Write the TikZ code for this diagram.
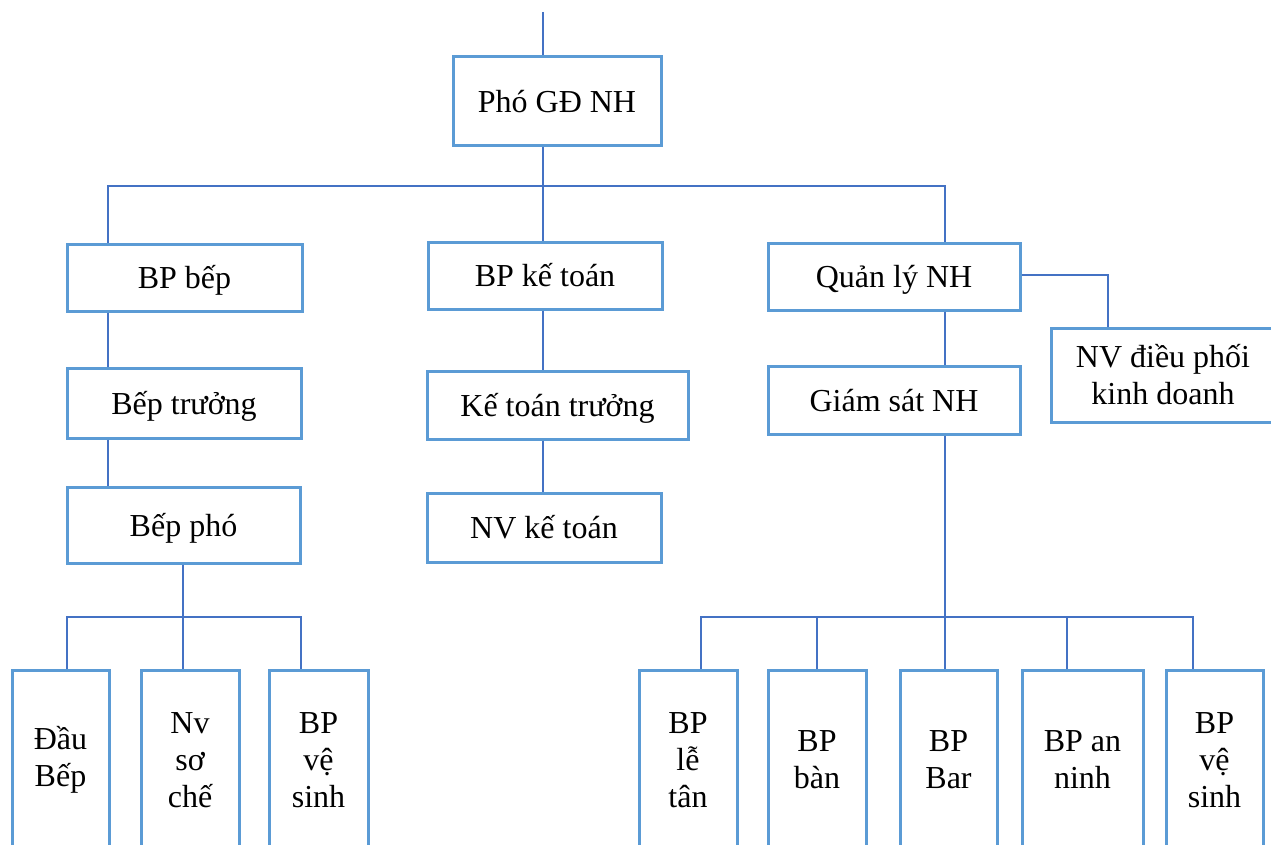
\documentclass[tikz,border=0pt]{standalone}
\usepackage{fontspec}
\setmainfont{Liberation Serif}
\definecolor{boxc}{HTML}{5B9BD5}
\definecolor{linec}{HTML}{4472C4}
\begin{document}
\begin{tikzpicture}[x=1pt,y=-1pt,
  box/.style={draw=boxc, line width=3pt, rectangle, inner sep=0pt, align=center,
    font=\fontsize{32}{37}\selectfont},
  single/.style={box, text height=22pt, text depth=0pt},
  conn/.style={draw=linec, line width=1.5pt}]
\useasboundingbox (0,0) rectangle (1271,845);
\clip (0,0) rectangle (1271,845);
% boxes
\node[single, minimum width=208pt, minimum height=89pt] (pho) at (557,101.5) {Phó GĐ NH};
\node[single, minimum width=235pt, minimum height=67pt] (bpbep) at (184.5,277.5) {BP bếp};
\node[single, minimum width=234pt, minimum height=67pt] (bpkt) at (545,275.5) {BP kế toán};
\node[single, minimum width=252pt, minimum height=67pt] (qlnh) at (894,276.5) {Quản lý NH};
\node[box, minimum width=224pt, minimum height=94pt] (nvdp) at (1163,375) {NV điều phối\\kinh doanh};
\node[single, minimum width=234pt, minimum height=70pt] (beptruong) at (184,403) {Bếp trưởng};
\node[single, minimum width=233pt, minimum height=76pt] (beppho) at (183.5,525) {Bếp phó};
\node[single, minimum width=261pt, minimum height=68pt] (ktt) at (557.5,405) {Kế toán trưởng};
\node[single, minimum width=234pt, minimum height=69pt] (nvkt) at (544,527.5) {NV kế toán};
\node[single, minimum width=252pt, minimum height=68pt] (gsnh) at (894,400) {Giám sát NH};
\node[box, minimum width=97pt, minimum height=180pt] (dau) at (60.5,760) {Đầu\\Bếp};
\node[box, minimum width=98pt, minimum height=180pt] (nvsc) at (190,760) {Nv\\sơ\\chế};
\node[box, minimum width=99pt, minimum height=180pt] (vs1) at (318.5,760) {BP\\vệ\\sinh};
\node[box, minimum width=98pt, minimum height=180pt] (letan) at (688,760) {BP\\lễ\\tân};
\node[box, minimum width=98pt, minimum height=180pt] (ban) at (817,760) {BP\\bàn};
\node[box, minimum width=97pt, minimum height=180pt] (bar) at (948.5,760) {BP\\Bar};
\node[box, minimum width=121pt, minimum height=180pt] (an) at (1082.5,760) {BP an\\ninh};
\node[box, minimum width=97pt, minimum height=180pt] (vs2) at (1214.5,760) {BP\\vệ\\sinh};
% junction coordinates
\coordinate (top) at (543,12);
\coordinate (tr) at (543,186);
\coordinate (bl) at (108,186);
\coordinate (br) at (945,186);
\coordinate (nd) at (1108,275);
\coordinate (lb) at (183,617);
\coordinate (lb1) at (67,617);
\coordinate (lb3) at (301,617);
\coordinate (rb) at (945,617);
\coordinate (rb1) at (701,617);
\coordinate (rb2) at (817,617);
\coordinate (rb4) at (1067,617);
\coordinate (rb5) at (1193,617);
% connectors
\draw[conn] (top) -- (top |- pho.north);
\draw[conn] (pho.south -| tr) -- (tr);
\draw[conn] (bpbep.north -| bl) -- (bl) -- (br) -- (qlnh.north -| br);
\draw[conn] (tr) -- (bpkt.north -| tr);
\draw[conn] (bpbep.south -| bl) -- (beptruong.north -| bl);
\draw[conn] (beptruong.south -| bl) -- (beppho.north -| bl);
\draw[conn] (beppho.south -| lb) -- (lb);
\draw[conn] (dau.north -| lb1) -- (lb1) -- (lb3) -- (vs1.north -| lb3);
\draw[conn] (lb) -- (nvsc.north -| lb);
\draw[conn] (bpkt.south -| tr) -- (ktt.north -| tr);
\draw[conn] (ktt.south -| tr) -- (nvkt.north -| tr);
\draw[conn] (qlnh.south -| br) -- (gsnh.north -| br);
\draw[conn] (qlnh.east |- nd) -- (nd) -- (nvdp.north -| nd);
\draw[conn] (gsnh.south -| rb) -- (rb);
\draw[conn] (letan.north -| rb1) -- (rb1) -- (rb5) -- (vs2.north -| rb5);
\draw[conn] (rb2) -- (ban.north -| rb2);
\draw[conn] (rb) -- (bar.north -| rb);
\draw[conn] (rb4) -- (an.north -| rb4);
\end{tikzpicture}
\end{document}
